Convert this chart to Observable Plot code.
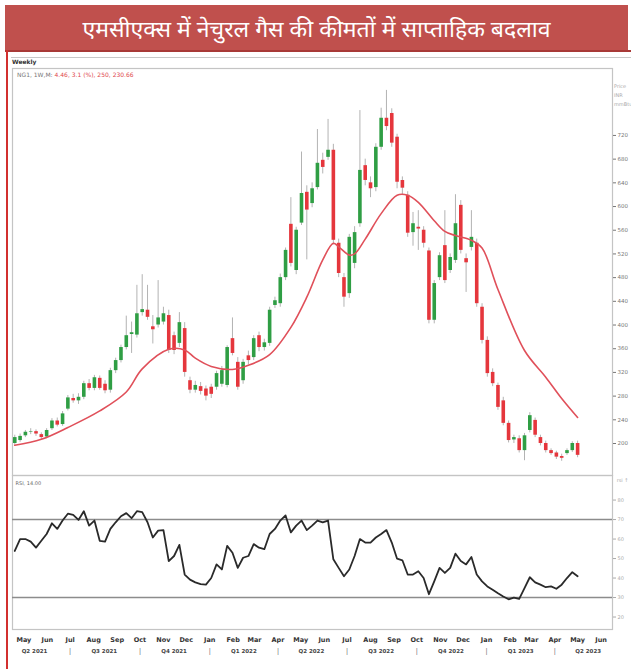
<!DOCTYPE html>
<html><head><meta charset="utf-8">
<script src="https://cdn.jsdelivr.net/npm/d3@7"></script>
<script src="https://cdn.jsdelivr.net/npm/@observablehq/plot@0.6"></script>
<style>
body{margin:0;background:#fff;width:631px;height:669px;overflow:hidden;position:relative;font-family:"Noto Sans",Arial,sans-serif}
#title{position:absolute;left:5px;top:5px;width:623px;height:45px;background:#c0504d;color:#fff;font-size:23px;display:flex;align-items:center;justify-content:center;white-space:nowrap}
#tline{position:absolute;left:5px;top:50px;width:626px;height:2px;background:#a83a37}
#lline{position:absolute;left:6px;top:50px;width:2px;height:619px;background:#d2302f}
#hdr{position:absolute;left:11px;top:57px;width:620px;height:11px;border-top:1px solid #c8c8c8;box-sizing:border-box}
#weekly{position:absolute;left:12px;top:58px;font:bold 6px "DejaVu Sans",sans-serif;color:#333}
#legend{position:absolute;left:17px;top:71px;font:6px "DejaVu Sans",sans-serif;color:#777;white-space:nowrap}
#legend span{color:#e0474c}
#unit{position:absolute;left:614px;top:82px;font:5px "DejaVu Sans",sans-serif;color:#aaa;line-height:9px}
.pl{position:absolute;left:0}
</style></head>
<body>
<div id="title">एमसीएक्स में नेचुरल गैस की कीमतों में साप्ताहिक बदलाव</div>
<div id="tline"></div>
<div id="lline"></div>
<div id="hdr"></div>
<div id="weekly">Weekly</div>
<div id="pricePlot" class="pl" style="top:57px"></div>
<div id="rsiPlot" class="pl" style="top:475px"></div>
<div id="legend">NG1, 1W,M: <span>4.46, 3.1 (%), 250, 230.66</span></div>
<div id="unit">Price<br>INR<br>mmBtu</div>
<script>
// ---- weekly candles (Monday of each week) ----
const firstWeek = "2021-04-19";
const lastWeek = "2023-05-01";
const opens = [200,205,213,219,220,215,211,225,238,232, 258,276,272,278,301,293,310,300,290,323,
  340,362,384,383,421,425,397,400,405,416, 382,369,394,306,290,296,292,295,295,300,
  298,377,337,306,348,345,382,362,369,433, 436,480,570,492,572,624,605,632,678,683,
  695,538,480,453,504,571,669,640,632,700, 749,757,717,644,619,556,565,560,525,408,
  480,534,492,509,602,512,531,538,430,374, 320,298,272,234,206,208,188,222,239,210,
  200,188,184,178,183,188,200];
const highs = [214,216,222,225,223,218,225,242,243,254, 281,283,284,305,308,315,314,306,327,344,
  366,415,405,467,485,467,416,475,430,425, 388,421,404,312,305,303,297,300,322,330,
  365,412,345,342,356,382,388,376,430,447, 486,530,615,565,692,635,640,730,690,747,
  705,545,487,553,566,762,680,650,706,766, 796,765,722,650,625,590,593,566,530,475,
  522,593,520,620,610,520,593,545,436,380, 326,302,278,238,214,213,217,252,243,214,
  204,191,187,182,191,203,204];
const lows = [197,202,210,215,212,206,208,222,228,229, 255,268,266,274,289,289,290,284,285,318,
  336,358,352,378,415,408,368,395,400,352, 350,362,312,284,285,282,272,276,290,295,
  294,348,290,300,333,340,355,356,364,428, 430,475,498,485,568,510,598,628,655,678,
  535,480,430,445,495,565,635,615,625,695, 728,700,630,620,548,533,526,530,402,402,
  475,470,487,504,520,455,525,430,368,312, 296,256,230,201,200,184,171,218,210,196,
  184,180,173,170,180,185,176];
const closes = [210,212,219,220,216,210,222,238,231,250, 277,272,278,301,293,311,293,289,323,340,
  362,382,387,419,426,413,392,412,419,357, 357,404,320,290,298,288,280,283,318,323,
  362,352,295,337,340,377,362,370,425,441, 480,526,504,560,622,594,630,673,666,695,
  543,487,447,548,556,661,644,630,700,749, 735,707,641,631,555,571,562,538,408,470,
  517,475,514,571,526,505,548,436,374,318, 301,261,234,205,210,188,213,247,214,200,
  188,183,177,175,188,200,180];
// 20-week moving average (red line), read at these week numbers
const maWeek = [0,5,10,16,21,24,29,32,34,37,41,44,48,52,55,58,60,61,63,64,66,69,72,74,76,79,81,83,86,88,91,96,100,103,106];
const maValue = [197,207,227,255,287,326,359,358,344,330,325,332,350,396,447,510,538,532,518,520,545,588,619,619,607,576,558,551,543,530,460,357,312,276,244];
// RSI (14) weekly
const rsiValues = [53.9,60.0,60.0,58.7,55.6,59.1,62.6,68.1,65.2,69.5,
  73.0,72.4,69.8,74.3,66.9,69.5,59.1,58.7,65.2,68.6,
  71.7,73.3,70.7,74.3,73.8,68.6,60.8,64.3,64.6,48.7,
  51.3,57.0,41.8,39.2,37.8,36.9,36.6,40.0,47.0,44.4,
  56.5,53.0,45.2,50.4,51.3,57.4,55.6,54.8,62.6,65.2,
  69.5,72.1,63.4,66.9,69.5,64.6,66.9,69.5,68.6,69.5,
  49.6,45.2,40.9,44.4,51.3,60.0,58.2,58.2,60.8,62.6,
  64.6,58.2,49.9,49.1,41.8,41.8,43.5,40.0,31.7,38.3,
  45.2,42.6,45.2,52.5,48.7,47.0,50.8,41.8,38.3,35.7,
  34.0,32.2,30.5,29.1,30.0,29.3,34.8,40.4,37.8,36.6,
  35.3,35.7,34.5,36.6,40.0,43.0,40.9];
const rsiLevels = [30, 70];
// ticks / labels
const priceTicks = [200,240,280,320,360,400,440,480,520,560,600,640,680,720];
const rsiTicks = [20,30,40,50,60,70,80];
const monthStarts = ["2021-05-01","2021-06-01","2021-07-01","2021-08-01","2021-09-01","2021-10-01","2021-11-01","2021-12-01",
  "2022-01-01","2022-02-01","2022-03-01","2022-04-01","2022-05-01","2022-06-01","2022-07-01","2022-08-01","2022-09-01","2022-10-01","2022-11-01","2022-12-01",
  "2023-01-01","2023-02-01","2023-03-01","2023-04-01","2023-05-01","2023-06-01"];
const monthLabels = ["May","Jun","Jul","Aug","Sep","Oct","Nov","Dec","Jan","Feb","Mar","Apr","May","Jun","Jul","Aug","Sep","Oct","Nov","Dec","Jan","Feb","Mar","Apr","May","Jun"];
const quarterLabels = ["Q2 2021","Q3 2021","Q4 2021","Q1 2022","Q2 2022","Q3 2022","Q4 2022","Q1 2023","Q2 2023"];
const quarterMid = ["2021-05-15","2021-08-15","2021-11-15","2022-02-15","2022-05-15","2022-08-15","2022-11-15","2023-02-15","2023-05-15"];
const quarterStarts = ["2021-07-01","2021-10-01","2022-01-01","2022-04-01","2022-07-01","2022-10-01","2023-01-01","2023-04-01"];

// ---- build tables ----
const weeks = d3.utcMonday.range(new Date(firstWeek), d3.utcDay.offset(new Date(lastWeek), 1));
const candles = weeks.map((date, i) => ({date, open: opens[i], high: highs[i], low: lows[i], close: closes[i]}));
const ma = maWeek.map((w, i) => ({date: weeks[w], value: maValue[i]}));
const rsi = weeks.map((date, i) => ({date, rsi: rsiValues[i]}));
const monthDates = monthStarts.map(s => new Date(s));
const xDomain = [new Date("2021-04-16"), new Date("2023-06-16")];
const green = "#2f9e44", red = "#e5363c";

const price = Plot.plot({
  width: 631, height: 418,
  marginTop: 11, marginBottom: 0, marginLeft: 12, marginRight: 19,
  x: {type: "utc", domain: xDomain, axis: null},
  y: {domain: [146, 833]},
  style: {background: "transparent", overflow: "visible"},
  marks: [
    Plot.frame({stroke: "#c4c4c4", strokeWidth: 1.2}),
    Plot.ruleX(candles, {x: "date", y1: "low", y2: "high", stroke: "#a0a0a0", strokeWidth: 0.8}),
    Plot.ruleX(candles, {x: "date", y1: "open", y2: "close", stroke: d => d.close >= d.open ? green : red, strokeWidth: 3.6}),
    Plot.line(ma, {x: "date", y: "value", stroke: "#e0505a", strokeWidth: 1.6, curve: "catmull-rom"}),
    Plot.axisY({anchor: "right", ticks: priceTicks, tickSize: 3, tickPadding: 2, fontSize: 5.5, color: "#777", fontFamily: "DejaVu Sans"})
  ]
});
document.getElementById("pricePlot").appendChild(price);

const rsiChart = Plot.plot({
  width: 631, height: 194,
  marginTop: 0, marginBottom: 40, marginLeft: 12, marginRight: 19,
  x: {type: "utc", domain: xDomain},
  y: {domain: [13.6, 92.6]},
  style: {background: "transparent", overflow: "visible"},
  marks: [
    Plot.frame({stroke: "#c4c4c4", strokeWidth: 1.2}),
    Plot.ruleY(rsiLevels, {stroke: "#8c8c8c", strokeWidth: 1.6}),
    Plot.line(rsi, {x: "date", y: "rsi", stroke: "#2a2a2a", strokeWidth: 1.8}),
    Plot.axisY({anchor: "right", ticks: rsiTicks, tickSize: 3, tickPadding: 2, fontSize: 5, color: "#aaa", fontFamily: "DejaVu Sans"}),
    Plot.axisX({ticks: monthDates, tickFormat: d => monthLabels[monthDates.findIndex(m => +m === +d)], tickSize: 0, tickPadding: 8, fontSize: 6.5, fontWeight: "bold", color: "#333", fontFamily: "DejaVu Sans"}),
    Plot.text(quarterLabels, {x: quarterMid.map(s => new Date(s)), text: d => d, frameAnchor: "bottom", dy: 23, fontSize: 5.5, fontWeight: "bold", fill: "#444", fontFamily: "DejaVu Sans"}),
    Plot.text(quarterStarts, {x: d => new Date(d), text: () => "|", frameAnchor: "bottom", dy: 23, fontSize: 6.5, fill: "#555"}),
    Plot.text(["RSI, 14.00"], {frameAnchor: "top-left", dx: 3, dy: 6, fontSize: 5, fill: "#666", fontFamily: "DejaVu Sans"})
  ]
});
document.getElementById("rsiPlot").appendChild(rsiChart);
</script>
</body></html>
